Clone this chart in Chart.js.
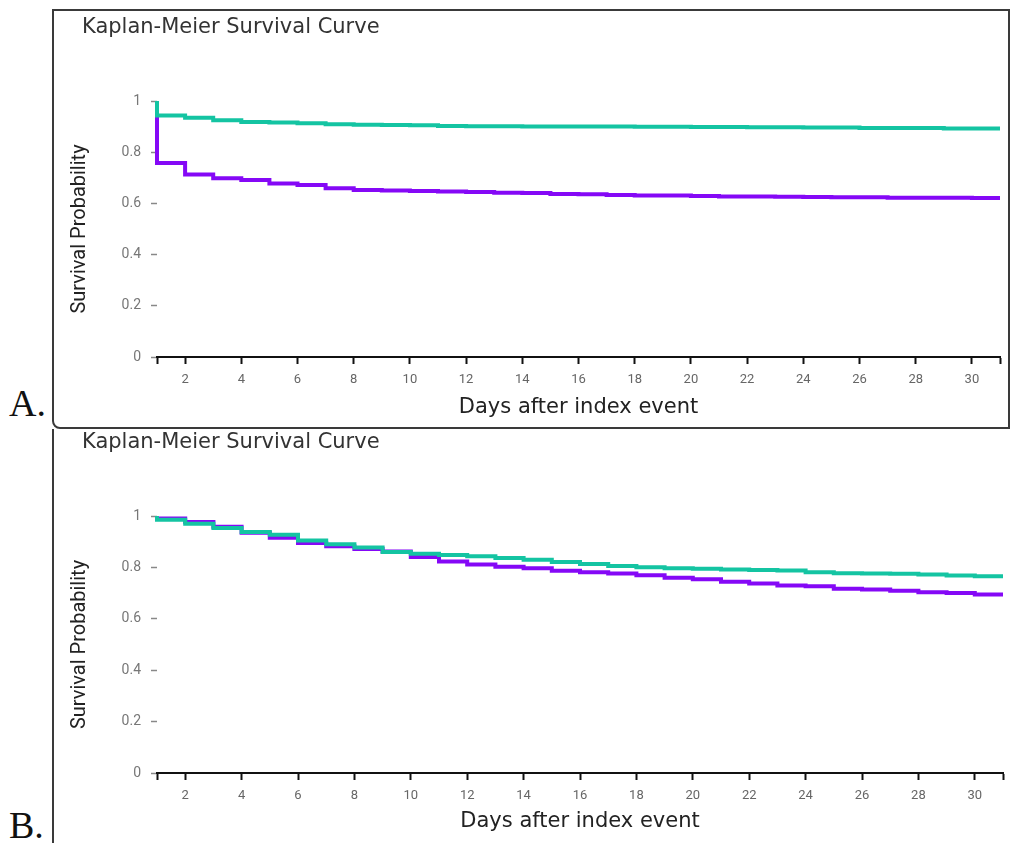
<!DOCTYPE html>
<html>
<head>
<meta charset="utf-8">
<script src="https://cdn.jsdelivr.net/npm/chart.js@4.4.1/dist/chart.umd.min.js"></script>
<style>
  body { margin: 0; width: 1011px; height: 843px; position: relative; overflow: hidden; background: #fff; }
  .panel { position: absolute; box-sizing: border-box; }
  .wrap { position: absolute; left: 0; top: 0; }
  .tag { position: absolute; font-family: "Liberation Serif", "DejaVu Serif", serif; font-size: 38px; color: #111; line-height: 1; }
</style>
</head>
<body>
<div class="panel" style="left:52px;top:9px;width:958px;height:420px;border:2px solid #3a3a3a;border-radius:0 0 0 8px;">
  <div class="wrap" style="width:954px;height:416px;"><canvas id="chartA"></canvas></div>
</div>
<div class="panel" style="left:52px;top:429px;width:959px;height:414px;border-left:2px solid #3a3a3a;">
  <div class="wrap" style="width:957px;height:414px;"><canvas id="chartB"></canvas></div>
</div>
<div class="tag" style="left:9px;top:384px;">A.</div>
<div class="tag" style="left:9px;top:806px;">B.</div>

<script>
const days = [1, 2, 3, 4, 5, 6, 7, 8, 9, 10, 11, 12, 13, 14, 15, 16, 17, 18, 19, 20, 21, 22, 23, 24, 25, 26, 27, 28, 29, 30];
const xTicks = [1, 2, 4, 6, 8, 10, 12, 14, 16, 18, 20, 22, 24, 26, 28, 30, 31];
const yTicks = [0, 0.2, 0.4, 0.6, 0.8, 1];

// panel A
const aTeal = [0.943, 0.935, 0.925, 0.918, 0.916, 0.913, 0.909, 0.907, 0.906, 0.905, 0.902, 0.901, 0.901, 0.900, 0.900,
  0.900, 0.900, 0.899, 0.899, 0.898, 0.898, 0.897, 0.897, 0.896, 0.896, 0.895, 0.895, 0.895, 0.893, 0.893];
const aPurple = [0.758, 0.713, 0.698, 0.691, 0.678, 0.672, 0.659, 0.652, 0.650, 0.648, 0.646, 0.645, 0.642, 0.641, 0.637,
  0.636, 0.633, 0.631, 0.631, 0.629, 0.627, 0.627, 0.626, 0.625, 0.624, 0.624, 0.622, 0.622, 0.622, 0.621];

// panel B
const bTeal = [0.985, 0.970, 0.953, 0.938, 0.927, 0.905, 0.890, 0.877, 0.860, 0.853, 0.848, 0.843, 0.837, 0.830, 0.821,
  0.813, 0.805, 0.801, 0.797, 0.795, 0.792, 0.790, 0.788, 0.781, 0.777, 0.776, 0.775, 0.772, 0.768, 0.766];
const bPurple = [0.990, 0.977, 0.958, 0.935, 0.915, 0.895, 0.882, 0.872, 0.862, 0.840, 0.823, 0.811, 0.803, 0.797, 0.787,
  0.781, 0.776, 0.769, 0.760, 0.754, 0.744, 0.737, 0.730, 0.727, 0.717, 0.714, 0.709, 0.703, 0.700, 0.695];

const TEAL = "#14c4a2";
const PURPLE = "#8508f6";

// KM steps: start at 1 on day 1, hold the last value to the axis end
const km = (vals) => [
  { x: 1, y: 1 },
  ...days.map((d, i) => ({ x: d, y: vals[i] })),
  { x: 31, y: vals[vals.length - 1] },
];

const panelTitle = {
  id: "panelTitle",
  afterDraw(chart, args, opts) {
    const ctx = chart.ctx;
    ctx.save();
    ctx.font = opts.font;
    ctx.fillStyle = opts.color;
    ctx.textBaseline = "middle";
    ctx.fillText(opts.text, opts.x, opts.y);
    ctx.restore();
  },
};

const line = (vals, color) => ({
  data: km(vals),
  borderColor: color,
  borderWidth: 4,
  stepped: "before",
  pointRadius: 0,
  fill: false,
  clip: false,
});

const kmChart = (id, teal, purple, g) =>
  new Chart(document.getElementById(id), {
    type: "line",
    data: { datasets: [line(teal, TEAL), line(purple, PURPLE)] },
    plugins: [panelTitle],
    options: {
      responsive: true,
      maintainAspectRatio: false,
      animation: false,
      layout: { padding: { top: g.top, left: 0, right: 3, bottom: 0 } },
      plugins: {
        legend: { display: false },
        tooltip: { enabled: false },
        panelTitle: {
          text: "Kaplan-Meier Survival Curve",
          x: 28,
          y: g.titleY,
          font: "21px 'DejaVu Sans'",
          color: "#333",
        },
      },
      scales: {
        x: {
          type: "linear",
          min: 1,
          max: 31,
          afterBuildTicks: (s) => { s.ticks = xTicks.map((v) => ({ value: v })); },
          afterFit: (s) => { s.height = g.xh; },
          ticks: {
            autoSkip: false,
            maxRotation: 0,
            padding: 8,
            color: "#666",
            font: { family: "Roboto", size: 13 },
            callback: (v) => (v % 2 === 0 ? v : ""),
          },
          grid: { drawOnChartArea: false, drawTicks: true, tickLength: 7, tickWidth: 2, tickColor: "#111" },
          border: { display: true, color: "#111", width: 2 },
          title: {
            display: true,
            text: "Days after index event",
            color: "#222",
            font: { family: "DejaVu Sans", size: 21 },
            padding: { top: 0, bottom: g.titlePad },
          },
        },
        y: {
          min: 0,
          max: 1,
          afterBuildTicks: (s) => { s.ticks = yTicks.map((v) => ({ value: v })); },
          afterFit: (s) => { s.width = 103; },
          ticks: {
            padding: 10,
            color: "#777",
            font: { family: "Roboto", size: 14 },
            callback: (v) => String(Math.round(v * 10) / 10),
          },
          grid: { drawOnChartArea: false, drawTicks: true, tickLength: 6, tickWidth: 1.5, tickColor: "#888" },
          border: { display: false },
          title: {
            display: true,
            text: "Survival Probability",
            color: "#222",
            font: { family: "Roboto", size: 20 },
            padding: { top: 14, bottom: 0 },
          },
        },
      },
    },
  });

kmChart("chartA", aTeal, aPurple, { top: 90, titleY: 17, xh: 70, titlePad: 7 });
kmChart("chartB", bTeal, bPurple, { top: 87, titleY: 14, xh: 70, titlePad: 9 });
</script>
</body>
</html>
